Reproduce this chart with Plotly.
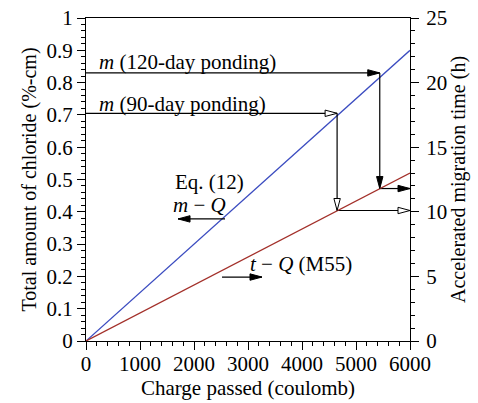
import plotly.graph_objects as go

# ---- data ----
charge = [0, 6000]                  # coulomb
chloride_m = [0, 0.9]               # %-cm  (m - Q, Eq. 12)
time_t = [0, 13]                    # h     (t - Q, M55)

x_ticks = [0, 1000, 2000, 3000, 4000, 5000, 6000]
yl_ticks = [0, 0.1, 0.2, 0.3, 0.4, 0.5, 0.6, 0.7, 0.8, 0.9, 1]
yl_text = ["0", "0.1", "0.2", "0.3", "0.4", "0.5", "0.6", "0.7", "0.8", "0.9", "1"]
yr_ticks = [0, 5, 10, 15, 20, 25]

# reading paths (left-axis units): horizontal -> down -> right
p120_x = [0, 5440, 5440, 6000]
p120_y = [0.83, 0.83, 0.472, 0.472]
p90_x = [0, 4650, 4650, 6000]
p90_y = [0.705, 0.705, 0.404, 0.404]

# small legend arrows
mq_arrow_x = [2574, 1704]
mq_arrow_y = [0.378, 0.378]
tq_arrow_x = [2519, 3259]
tq_arrow_y = [0.198, 0.198]

FONT = "Liberation Serif, Times New Roman, serif"
BLUE = "#3b4cc0"
RED = "#a3302a"

fig = go.Figure()
fig.add_trace(go.Scatter(x=charge, y=chloride_m, mode="lines",
                         line=dict(color=BLUE, width=1.3), showlegend=False))
fig.add_trace(go.Scatter(x=charge, y=time_t, mode="lines", yaxis="y2",
                         line=dict(color=RED, width=1.3), showlegend=False))

shapes = []

def head(x, y, direction, filled):
    L, W = 12, 3.2
    if direction == "right":
        path = f"M0,0 L{-L},{W} L{-L},{-W} Z"
    elif direction == "left":
        path = f"M0,0 L{L},{W} L{L},{-W} Z"
    else:  # down
        path = f"M0,0 L{-W},{L} L{W},{L} Z"
    shapes.append(dict(type="path", xref="x", yref="y", xsizemode="pixel",
                       ysizemode="pixel", xanchor=x, yanchor=y, path=path,
                       fillcolor="black" if filled else "white",
                       line=dict(color="black", width=1), layer="above"))

def draw_path(xs, ys, filled):
    for i in range(len(xs) - 1):
        fig.add_trace(go.Scatter(x=[xs[i], xs[i + 1]], y=[ys[i], ys[i + 1]],
                                 mode="lines", line=dict(color="black", width=1.2),
                                 showlegend=False, hoverinfo="skip"))
        if xs[i + 1] > xs[i]:
            d = "right"
        elif xs[i + 1] < xs[i]:
            d = "left"
        else:
            d = "down"
        head(xs[i + 1], ys[i + 1], d, filled)

draw_path(p120_x, p120_y, True)
draw_path(p90_x, p90_y, False)
draw_path(mq_arrow_x, mq_arrow_y, True)
draw_path(tq_arrow_x, tq_arrow_y, True)

fs = 21
annotations = [
    dict(x=204, y=0.864, text="<i>m</i> (120-day ponding)", xanchor="left"),
    dict(x=204, y=0.734, text="<i>m</i> (90-day ponding)", xanchor="left"),
    dict(x=2296, y=0.492, text="Eq. (12)", xanchor="center"),
    dict(x=2111, y=0.42, text="<i>m</i> − <i>Q</i>", xanchor="center"),
    dict(x=3981, y=0.237, text="<i>t</i> − <i>Q</i> (M55)", xanchor="center"),
]
for a in annotations:
    a.update(xref="x", yref="y", showarrow=False, yanchor="middle",
             font=dict(family=FONT, size=fs, color="black"))

axis_common = dict(showgrid=False, zeroline=False, linecolor="black", linewidth=1,
                   ticks="outside", tickcolor="black", ticklen=8, tickwidth=1,
                   automargin=False,
                   tickfont=dict(family=FONT, size=fs, color="black"))

fig.update_layout(
    width=478, height=403,
    margin=dict(l=86, r=68, t=18, b=62),
    paper_bgcolor="white", plot_bgcolor="white",
    font=dict(family=FONT, size=fs, color="black"),
    shapes=shapes, annotations=annotations,
    xaxis=dict(range=[0, 6000], tickvals=x_ticks, mirror=True,
               ticklabelstandoff=-4,
               minor=dict(dtick=200, ticks="outside", ticklen=4, tickcolor="black"),
               title=dict(text="Charge passed (coulomb)", standoff=2,
                          font=dict(family=FONT, size=fs, color="black")),
               **axis_common),
    yaxis=dict(range=[0, 1], tickvals=yl_ticks, ticktext=yl_text,
               minor=dict(dtick=0.02, ticks="outside", ticklen=4, tickcolor="black"),
               title=dict(text="Total amount of chloride (%-cm)", standoff=4,
                          font=dict(family=FONT, size=20, color="black")),
               **axis_common),
    yaxis2=dict(range=[0, 25], tickvals=yr_ticks, overlaying="y", side="right",
                ticklabelstandoff=3,
                minor=dict(dtick=1, ticks="outside", ticklen=4, tickcolor="black"),
                title=dict(text="Accelerated migration time (h)", standoff=2,
                           font=dict(family=FONT, size=20, color="black")),
                **axis_common),
)

fig.write_html("out.html")
